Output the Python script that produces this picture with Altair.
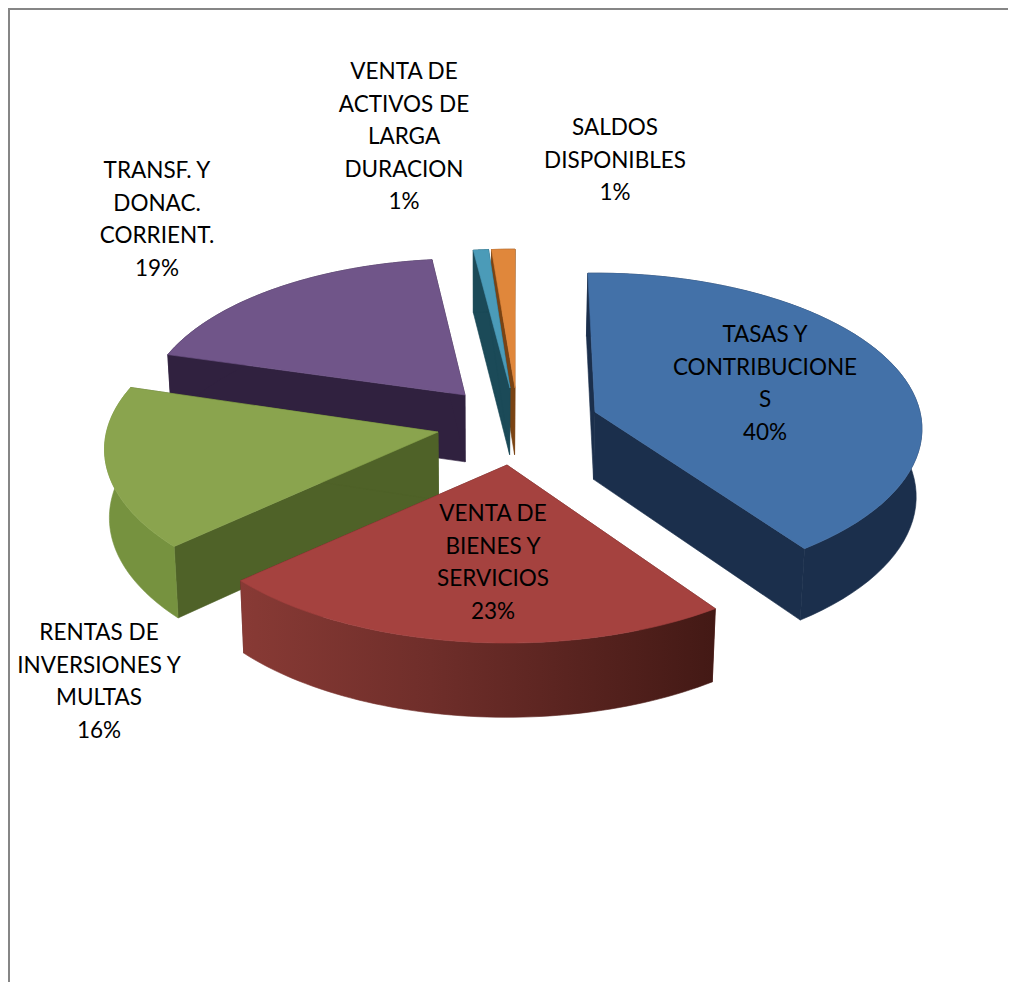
import numpy as np
import altair as alt

# ---- data ----
categories = ["TASAS Y\nCONTRIBUCIONE\nS", "VENTA DE\nBIENES Y\nSERVICIOS",
              "RENTAS DE\nINVERSIONES Y\nMULTAS", "TRANSF. Y\nDONAC.\nCORRIENT.",
              "VENTA DE\nACTIVOS DE\nLARGA\nDURACION", "SALDOS\nDISPONIBLES"]
shares = [40, 23, 16, 19, 1, 1]

# ---- styling and layout of the tilted pie ----
W, H = 1000, 974
OX, OY = 8, 8
RX, RY, K = 325.0, 154.0, 0.109
VX, SHRINK = 480.0, 0.987
tips = [(595, 412), (507, 465), (438, 432), (465, 395), (510, 388), (515, 388)]
radius_scale = [1.0, 1.03, 1.02, 0.98, 1.0, 1.0]
# small corrections (degrees) for the drawing's perspective, start and end of each wedge
start_nudge = [-1.4, 1.5, 0.7, 1.6, 0.0, -1.0]
end_nudge = [0.0, 0.7, 2.6, 0.6, -0.6, 0.0]
top_colors = ["#4371a8", "#a5423f", "#8aa44e", "#705589", "#4b9bb8", "#e0873b"]
side_colors = ["#1b2f4c", "#5a221e", "#4f6228", "#30213f", "#1b4a58", "#7a4313"]
rim_colors = ["#1b2f4c", None, "#76923f", "#30213f", "#1b4a58", "#7a4313"]
label_anchor = [(765, 335), (493, 514), (99, 633), (157, 171), (404, 72), (615, 128)]
paint_order = [5, 4, 3, 2, 1, 0]
LINE = 32.6
FONT = "Lato"
FONT_SIZE = 22.5


def top(tip, scale, t):
    p = 1.0 / (1.0 + K * np.cos(t))
    return (tip[0] + scale * RX * np.sin(t) * p, tip[1] - scale * RY * np.cos(t) * p)


def down(pt):
    x, y = pt
    return (VX + (x - VX) * SHRINK, y + 55 + 0.03 * y)


def poly(points):
    ring = [[float(x) - OX, float(y) - OY] for x, y in points]
    ring.append(ring[0])
    return {"type": "Feature", "properties": {}, "geometry": {"type": "Polygon", "coordinates": [ring]}}


def layer(points, fill):
    return alt.Chart(alt.Data(values=[poly(points)])).mark_geoshape(
        fill=fill, stroke=fill, strokeWidth=0.6
    ).project(type="identity", scale=1, translate=[0, 0])


edges = np.cumsum([0] + shares) / np.sum(shares) * 2 * np.pi
red_wall = alt.Gradient(gradient="linear", x1=0, x2=1, y1=0, y2=0, stops=[
    alt.GradientStop(color="#883a35", offset=0),
    alt.GradientStop(color="#6f2e2a", offset=0.4),
    alt.GradientStop(color="#431915", offset=1),
])

layers = []
for i in paint_order:
    tip, s = tips[i], radius_scale[i]
    ts = np.linspace(edges[i] + np.radians(start_nudge[i]), edges[i + 1] + np.radians(end_nudge[i]), 60)
    rim = [top(tip, s, t) for t in ts]
    low = [down(p) for p in rim]
    layers.append(layer([tip, rim[0], low[0], down(tip)], side_colors[i]))
    layers.append(layer([tip, rim[-1], low[-1], down(tip)], side_colors[i]))
    layers.append(layer(rim + low[::-1], rim_colors[i] or red_wall))
    layers.append(layer([tip] + rim, top_colors[i]))

labels = [{"label": f"{c}\n{v}%", "x": a[0] - OX, "y": a[1] - OY}
          for c, v, a in zip(categories, shares, label_anchor)]
text = alt.Chart(alt.Data(values=labels)).mark_text(
    font=FONT, fontSize=FONT_SIZE, color="#000000", align="center", baseline="middle",
    lineBreak="\n", lineHeight=LINE,
).encode(x=alt.X("x:Q", scale=None), y=alt.Y("y:Q", scale=None), text="label:N")

frame_left = alt.Chart(alt.Data(values=[{"a": 1}])).mark_rule(color="#868686", strokeWidth=2).encode(
    x=alt.value(1), y=alt.value(0), y2=alt.value(H))
frame_top = alt.Chart(alt.Data(values=[{"a": 1}])).mark_rule(color="#868686", strokeWidth=2).encode(
    y=alt.value(1), x=alt.value(0), x2=alt.value(W))

chart = alt.layer(*layers, text, frame_left, frame_top).properties(
    width=W, height=H, padding=0, autosize=alt.AutoSizeParams(type="none"), background="white"
).configure_view(stroke=None)

chart.save("out.html", embed_options={"renderer": "svg", "actions": False})
